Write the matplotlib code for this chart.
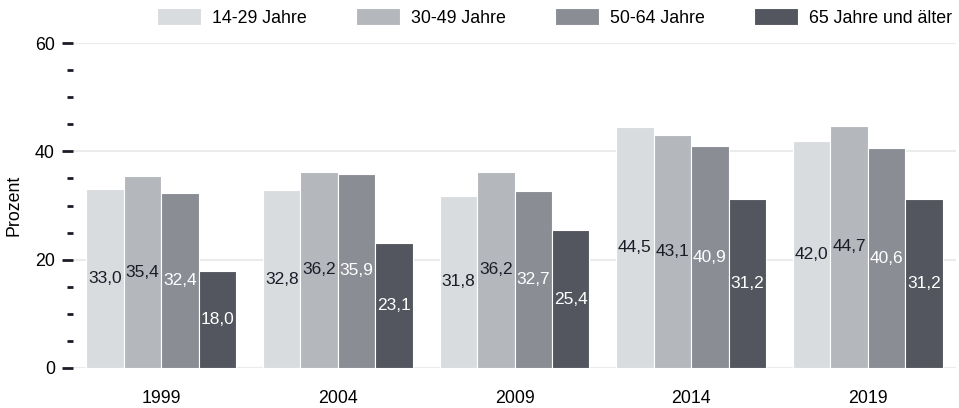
import matplotlib.pyplot as plt
import numpy as np
from matplotlib.ticker import MultipleLocator

plt.rcParams['font.family'] = ['Liberation Sans', 'DejaVu Sans']

years = ["1999", "2004", "2009", "2014", "2019"]
groups = ["14-29 Jahre", "30-49 Jahre", "50-64 Jahre", "65 Jahre und älter"]
v_14_29 = [33.0, 32.8, 31.8, 44.5, 42.0]
v_30_49 = [35.4, 36.2, 36.2, 43.1, 44.7]
v_50_64 = [32.4, 35.9, 32.7, 40.9, 40.6]
v_65 = [18.0, 23.1, 25.4, 31.2, 31.2]

colors = ["#d9dcdf", "#b4b8bc", "#8a8d94", "#53565e"]
text_colors = ["#1c1c28", "#1c1c28", "white", "white"]

fig = plt.figure(figsize=(9.59, 4.08), dpi=100)
ax = fig.add_axes([73 / 959, 1 - 368 / 408, 883 / 959, 325 / 408])

x = np.arange(len(years))
w = 0.212
series = [v_14_29, v_30_49, v_50_64, v_65]
for i, vals in enumerate(series):
    pos = x + (i - 1.5) * w
    bars = ax.bar(pos, vals, w, color=colors[i], edgecolor="white",
                  linewidth=0.8, label=groups[i], zorder=2)
    for b, v in zip(bars, vals):
        ax.text(b.get_x() + b.get_width() / 2, v / 2,
                ("%.1f" % v).replace(".", ","), ha="center", va="center",
                fontsize=12.5, color=text_colors[i], zorder=3)

ax.set_xlim(-0.5, 4.5)
ax.set_ylim(0, 60)
ax.set_xticks(x)
ax.set_xticklabels(years)
ax.yaxis.set_major_locator(MultipleLocator(20))
ax.yaxis.set_minor_locator(MultipleLocator(5))
ax.grid(axis="y", which="major", color="#ebebeb", linewidth=1.5, zorder=0)
ax.set_axisbelow(True)
for s in ax.spines.values():
    s.set_visible(False)
ax.tick_params(axis="x", length=0, pad=16, labelsize=12.8)
ax.tick_params(axis="y", which="major", length=8, width=2, color="#1c1c28",
               pad=5, labelsize=12.8)
ax.tick_params(axis="y", which="minor", length=4.5, width=2, color="#1c1c28")
ax.set_ylabel("Prozent", fontsize=12.8)
ax.yaxis.set_label_coords(-0.057, 0.5)

fig.legend(loc="center left", bbox_to_anchor=(157 / 959, 1 - 17.5 / 408),
           ncol=4, frameon=False, fontsize=12.8, handlelength=2.49,
           handleheight=1.05, handletextpad=0.62, columnspacing=2.75,
           borderpad=0, borderaxespad=0)

fig.savefig("out.png", dpi=100)
